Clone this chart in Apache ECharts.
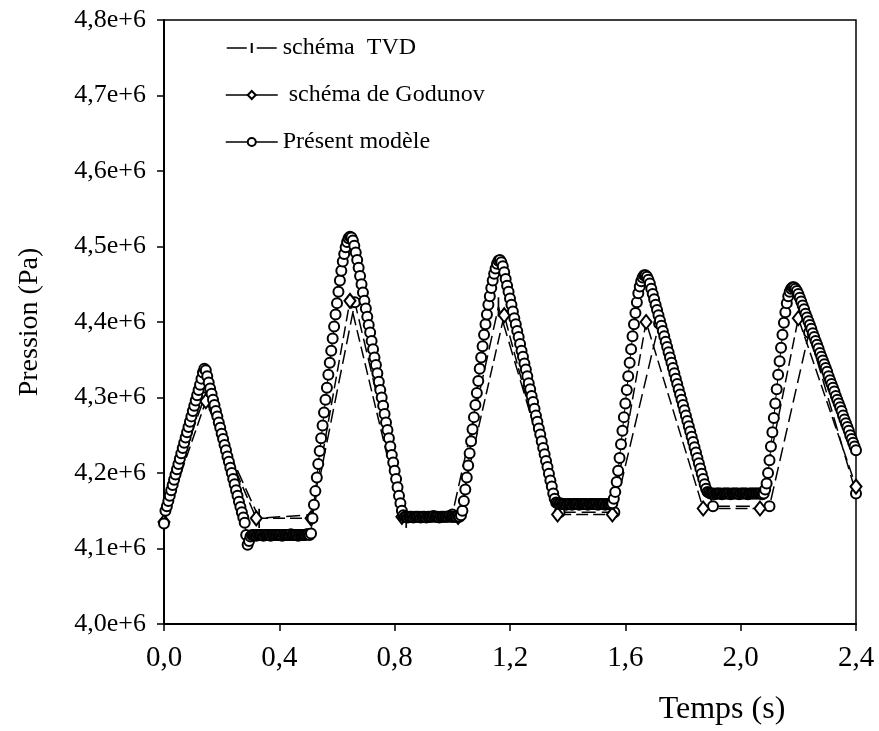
<!DOCTYPE html>
<html>
<head>
<meta charset="utf-8">
<script src="https://cdn.jsdelivr.net/npm/echarts/dist/echarts.min.js"></script>
<style>html,body{margin:0;padding:0;background:#fff}#c{width:879px;height:731px}</style>
</head>
<body>
<div id="c"></div>
<script>
// ---- data (pressure in kPa, time in s) ----
const seriesNames = ['schéma  TVD', ' schéma de Godunov', 'Présent modèle'];

// Présent modèle: sampled every 0.005 s from 0 to 2.4 s
const presentStep = 0.005;
const presentKPa = [
  4133,4150,4156,4163,4170,4177,4184,4191,4198,4205,4212,4219,4226,4233,4240,4247,4254,4261,4268,4275,
  4282,4289,4296,4303,4310,4317,4325,4333,4338,4336,4328,4320,4312,4305,4297,4290,4282,4275,4267,4260,
  4252,4245,4237,4230,4222,4215,4207,4200,4192,4185,4177,4170,4162,4155,4148,4141,4134,4118,4105,4110,
  4116,4118,4118,4118,4117,4118,4118,4118,4118,4117,4118,4118,4118,4118,4117,4118,4118,4118,4118,4118,
  4118,4118,4117,4118,4118,4118,4118,4118,4119,4118,4118,4118,4118,4117,4118,4118,4118,4118,4118,4119,
  4119,4118,4120,4140,4158,4176,4194,4212,4229,4246,4263,4280,4297,4313,4330,4346,4362,4378,4394,4410,
  4425,4440,4455,4468,4480,4490,4499,4506,4511,4513,4512,4508,4501,4492,4482,4472,4461,4450,4439,4428,
  4418,4407,4396,4386,4375,4364,4353,4343,4332,4321,4310,4300,4289,4278,4267,4257,4246,4235,4224,4214,
  4203,4192,4181,4170,4160,4150,4144,4142,4142,4141,4142,4142,4142,4141,4142,4142,4142,4142,4141,4142,
  4142,4142,4141,4142,4142,4142,4142,4143,4142,4142,4142,4141,4142,4142,4142,4142,4142,4142,4143,4142,
  4142,4142,4142,4142,4143,4142,4144,4150,4163,4178,4194,4210,4226,4242,4258,4274,4290,4306,4322,4338,
  4353,4368,4383,4397,4410,4423,4434,4445,4455,4464,4471,4477,4481,4482,4479,4474,4466,4457,4448,4440,
  4431,4423,4414,4405,4397,4388,4380,4371,4362,4354,4345,4337,4328,4319,4311,4302,4294,4285,4276,4268,
  4259,4251,4242,4233,4225,4216,4208,4199,4190,4182,4173,4166,4161,4160,4159,4160,4159,4159,4159,4158,
  4159,4159,4159,4158,4159,4159,4159,4159,4158,4159,4159,4159,4159,4159,4158,4159,4159,4159,4159,4159,
  4159,4158,4159,4159,4159,4159,4158,4159,4159,4159,4159,4160,4166,4175,4188,4203,4220,4238,4256,4274,
  4292,4310,4328,4346,4364,4381,4397,4412,4426,4438,4447,4454,4459,4462,4462,4460,4456,4451,4444,4437,
  4430,4423,4416,4409,4402,4395,4388,4381,4374,4367,4360,4353,4346,4339,4332,4325,4318,4311,4304,4297,
  4290,4283,4276,4269,4262,4255,4248,4241,4234,4227,4220,4213,4206,4199,4192,4185,4179,4175,4174,4173,
  4173,4173,4172,4173,4173,4173,4173,4172,4173,4173,4173,4173,4173,4172,4173,4173,4173,4173,4173,4172,
  4173,4173,4173,4173,4173,4172,4173,4173,4173,4173,4173,4173,4173,4173,4173,4172,4173,4178,4186,4200,
  4217,4235,4254,4273,4292,4311,4330,4348,4366,4383,4399,4413,4425,4434,4440,4444,4446,4446,4444,4441,
  4437,4432,4427,4422,4417,4411,4406,4401,4396,4391,4385,4380,4375,4370,4365,4359,4354,4349,4344,4339,
  4334,4328,4323,4318,4313,4308,4302,4297,4292,4287,4282,4276,4271,4266,4261,4256,4250,4245,4240,4235,
  4230
];

// schéma TVD (sparse vertices)
const tvdT   = [0.0, 0.14, 0.33, 0.515, 0.662, 0.84, 1.0, 1.16, 1.372, 1.562, 1.717, 1.904, 2.10, 2.237, 2.4];
const tvdKPa = [4150, 4300, 4140, 4145, 4426, 4140, 4145, 4420, 4148, 4148, 4398, 4156, 4156, 4386, 4173];
const tvdCircleIdx = [1, 4, 6, 8, 9, 10, 11, 12, 13, 14];

// schéma de Godunov (sparse vertices)
const godT   = [0.0, 0.145, 0.32, 0.51, 0.645, 0.825, 1.02, 1.18, 1.365, 1.555, 1.672, 1.87, 2.067, 2.2, 2.4];
const godKPa = [4135, 4295, 4140, 4140, 4428, 4142, 4142, 4409, 4145, 4145, 4400, 4153, 4153, 4405, 4182];

// axes
const xMin = 0, xMax = 2.4, xStep = 0.4;
const yMin = 4000, yMax = 4800, yStep = 100;

// ---- chart ----
const FONT = 'Liberation Serif';
const TICK_ICON = 'path://M0,4.2h20v1.6h-20zM24,0h2v10h-2zM30,4.2h20v1.6h-20z';
const presentData = presentKPa.map((p, i) => [+(i * presentStep).toFixed(3), p]);
const tvdData = tvdT.map((t, i) => tvdCircleIdx.includes(i)
  ? { value: [t, tvdKPa[i]], symbol: 'emptyCircle', symbolSize: 10 }
  : [t, tvdKPa[i]]);
const godData = godT.map((t, i) => [t, godKPa[i]]);

const chart = echarts.init(document.getElementById('c'), null, { renderer: 'canvas' });
chart.setOption({
  animation: false,
  backgroundColor: '#fff',
  grid: { left: 164, right: 23, top: 20, bottom: 107, show: true, borderColor: '#000', borderWidth: 1.5, backgroundColor: 'transparent' },
  legend: {
    data: [
      { name: seriesNames[0], icon: TICK_ICON, itemStyle: { color: '#000', borderWidth: 0 } },
      { name: seriesNames[1] },
      { name: seriesNames[2] }
    ],
    orient: 'vertical', left: 220, top: 31, itemGap: 23,
    itemWidth: 52, itemHeight: 10,
    textStyle: { fontFamily: FONT, fontSize: 24, color: '#000' },
    lineStyle: { type: 'solid', width: 1.5, color: '#000' }
  },
  xAxis: {
    type: 'value', min: xMin, max: xMax, interval: xStep,
    axisLine: { show: true, onZero: false, lineStyle: { color: '#000', width: 2 } },
    axisTick: { show: true, length: 7, lineStyle: { color: '#000', width: 1.5 } },
    axisLabel: { color: '#000', fontFamily: FONT, fontSize: 29, margin: 20, formatter: v => v.toFixed(1).replace('.', ',') },
    splitLine: { show: false },
    name: 'Temps (s)', nameLocation: 'end', nameGap: -134,
    nameTextStyle: { color: '#000', fontFamily: FONT, fontSize: 32, align: 'center', verticalAlign: 'top', padding: [70, 0, 0, 0] }
  },
  yAxis: {
    type: 'value', min: yMin, max: yMax, interval: yStep,
    axisLine: { show: true, onZero: false, lineStyle: { color: '#000', width: 2 } },
    axisTick: { show: true, length: 7, lineStyle: { color: '#000', width: 1.5 } },
    axisLabel: { color: '#000', fontFamily: FONT, fontSize: 26, margin: 18, formatter: v => (v / 1000).toFixed(1).replace('.', ',') + 'e+6' },
    splitLine: { show: false },
    name: 'Pression (Pa)', nameLocation: 'middle', nameGap: 120,
    nameTextStyle: { color: '#000', fontFamily: FONT, fontSize: 28 }
  },
  series: [
    {
      name: seriesNames[0], type: 'line', data: tvdData, z: 2,
      symbol: 'path://M0,0h1v10h-1z', symbolKeepAspect: true, symbolSize: [2, 11],
      itemStyle: { color: '#000', borderColor: '#000', borderWidth: 1.5 },
      lineStyle: { color: '#000', width: 1.5, type: [14, 6] }
    },
    {
      name: seriesNames[1], type: 'line', data: godData, z: 2,
      symbol: 'emptyDiamond', symbolSize: [11, 14],
      itemStyle: { color: '#000', borderWidth: 1.5 },
      lineStyle: { color: '#000', width: 1.5, type: [12, 5] }
    },
    {
      name: seriesNames[2], type: 'line', data: presentData, z: 3,
      symbol: 'emptyCircle', symbolSize: 10,
      itemStyle: { color: '#000', borderWidth: 1.6 },
      lineStyle: { color: '#000', width: 1 }
    }
  ]
});
</script>
</body>
</html>
